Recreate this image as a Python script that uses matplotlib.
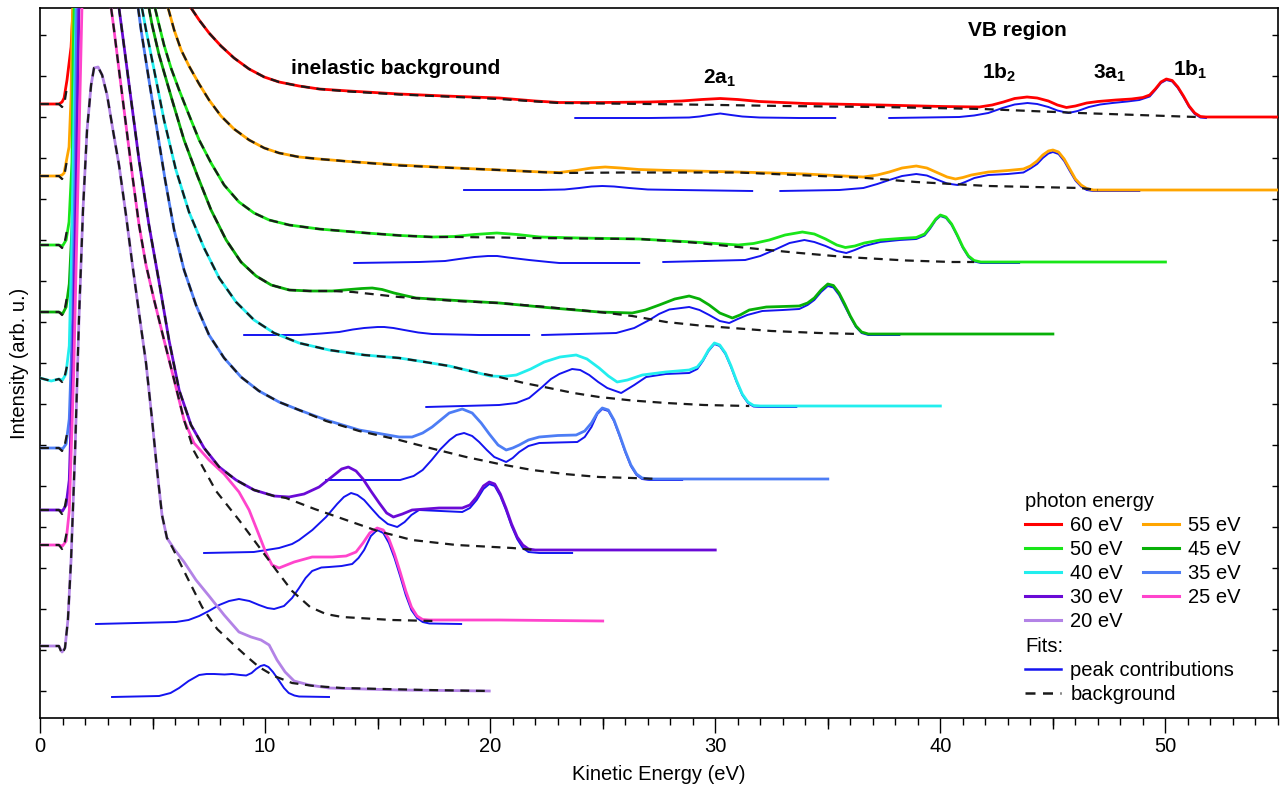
import numpy as np
import matplotlib
matplotlib.use('Agg')
import matplotlib.pyplot as plt
from matplotlib.lines import Line2D
from matplotlib.ticker import MultipleLocator, FixedLocator

plt.rcParams['font.family'] = ['Liberation Sans', 'DejaVu Sans']
plt.rcParams['mathtext.fontset'] = 'custom'
plt.rcParams['mathtext.rm'] = 'Liberation Sans:bold'
plt.rcParams['mathtext.it'] = 'Liberation Sans:bold'
plt.rcParams['mathtext.bf'] = 'Liberation Sans:bold'
plt.rcParams['mathtext.default'] = 'rm'

nan = float('nan')

# ---------------- data (kinetic energy in eV, intensity in arb. u.) ----------------
photon_energies = [60, 55, 50, 45, 40, 35, 30, 25, 20]
offsets = [60.1, 52.8, 45.6, 38.4, 31.2, 23.9, 16.8, 9.7, 2.7]
colors = ['#ff0000', '#ffa500', '#19e619', '#08b008', '#22eeee',
          '#4d7df5', '#6a0ad6', '#ff44cc', '#b383e6']

# 60 eV
ke_60 = [0, 0.84, 0.98, 1.07, 1.2, 1.38, 1.47, 2.6, 5.8, 6.71, 7.07, 7.51, 8.04, 8.62, 9.29, 9.96,
         10.62, 11.51, 12.4, 13.73, 15.96, 18.0, 20.4, 22.0, 23.07, 25.0, 27.07, 28.5, 29.4, 30.22,
         31.0, 31.96, 34.0, 37.33, 40.09, 41.73, 42.3, 42.8, 43.3, 43.85, 44.3, 44.8, 45.2, 45.6,
         46.0, 46.5, 47.0, 47.8, 48.5, 49.0, 49.3, 49.55, 49.8, 50.04, 50.3, 50.55, 50.8, 51.05,
         51.3, 51.55, 51.8, 55]
in_60 = [1.3, 1.3, 1.5, 1.9, 3.7, 7.0, 10.9, 80, 15, 10.9, 9.7, 8.4, 7.1, 5.9, 4.8, 4.0,
         3.5, 3.1, 2.8, 2.6, 2.3, 2.1, 1.9, 1.6, 1.45, 1.45, 1.5, 1.6, 1.75, 1.85,
         1.75, 1.55, 1.35, 1.2, 1.05, 1.0, 1.2, 1.5, 1.85, 2.0, 1.9, 1.6, 1.2, 0.95,
         1.1, 1.4, 1.55, 1.7, 1.8, 1.95, 2.2, 2.8, 3.5, 3.8, 3.65, 3.0, 2.1, 1.1,
         0.4, 0.05, 0, 0]
bg_ke_60 = [0, 0.84, 0.98, 1.1, 1.2, nan, 6.71, 7.07, 7.51, 8.04, 8.62, 9.29, 9.96, 10.62, 11.51,
            12.4, 13.73, 15.96, 18.0, 20.4, 23.07, 27.07, 30.22, 33.0, 37.33, 41.87, 46.18, 51.38]
bg_60 = [1.3, 1.3, 1.0, 1.6, 3.0, nan, 10.9, 9.7, 8.4, 7.1, 5.9, 4.8, 4.0, 3.5, 3.1,
         2.8, 2.55, 2.25, 2.05, 1.8, 1.4, 1.3, 1.2, 1.1, 1.0, 0.8, 0.4, 0.0]
fit_ke_60 = [23.78, 27.07, 28.84, 29.3, 29.73, 30.22, 30.7, 31.2, 31.96, 33.73, 35.33, nan,
             37.73, 40.84, 41.5, 42.13, 42.76, 43.3, 43.87, 44.3, 44.8, 45.2, 45.69, 46.1, 46.6,
             47.1, 47.64, 48.3, 48.84, 49.3, 49.55, 49.8, 50.04, 50.3, 50.55, 50.8, 51.05, 51.3,
             51.55, 51.8]
fit_60 = [-0.1, -0.1, -0.05, 0.05, 0.2, 0.35, 0.2, 0.05, -0.05, -0.1, -0.1, nan,
          -0.1, 0, 0.15, 0.4, 0.9, 1.25, 1.4, 1.3, 1.0, 0.65, 0.4, 0.6, 1.0,
          1.25, 1.4, 1.55, 1.7, 2.05, 2.7, 3.4, 3.7, 3.55, 2.9, 2.0, 1.0, 0.3,
          -0.05, -0.1]

# 55 eV
ke_55 = [0, 0.84, 0.98, 1.07, 1.29, 1.38, 1.42, 1.47, 2.6, 5.69, 5.96, 6.27, 6.62, 7.07, 7.51,
         8.04, 8.62, 9.29, 9.96, 10.62, 11.51, 12.4, 13.73, 15.96, 18.0, 20.4, 22.3, 23.07, 23.8,
         24.5, 25.11, 25.8, 26.6, 28.0, 31.02, 34.0, 36.58, 37.2, 37.73, 38.3, 38.93, 39.4, 39.9,
         40.3, 40.67, 41.0, 41.38, 42.13, 43.0, 43.69, 44.0, 44.3, 44.55, 44.8, 45.0, 45.25, 45.5,
         45.75, 46.0, 46.25, 46.5, 46.8, 55]
in_55 = [1.4, 1.4, 1.5, 1.7, 4.3, 9.3, 16, 19, 80, 18.2, 16.0, 14.0, 12.4, 10.6, 9.0,
         7.4, 6.1, 5.0, 4.2, 3.7, 3.3, 3.1, 2.85, 2.5, 2.25, 2.0, 1.8, 1.75, 1.95,
         2.2, 2.3, 2.2, 2.05, 1.95, 1.8, 1.6, 1.3, 1.5, 1.8, 2.2, 2.4, 2.2, 1.7,
         1.3, 1.1, 1.25, 1.5, 1.8, 1.95, 2.1, 2.4, 2.9, 3.5, 3.9, 4.0, 3.8, 3.1,
         2.1, 1.1, 0.5, 0.15, 0, 0]
bg_ke_55 = [0, 0.84, 0.98, 1.1, 1.2, nan, 5.69, 5.96, 6.27, 6.62, 7.07, 7.51, 8.04, 8.62, 9.29,
            9.96, 10.62, 11.51, 12.4, 13.73, 15.96, 20.4, 23.07, 26.0, 31.02, 36.71, 38.93, 42.13,
            46.22, 47.0]
bg_55 = [1.4, 1.4, 1.1, 1.7, 3.0, nan, 18.2, 16.0, 14.0, 12.4, 10.6, 9.0, 7.4, 6.1, 5.0,
         4.2, 3.7, 3.3, 3.1, 2.85, 2.45, 2.0, 1.7, 1.75, 1.75, 1.2, 0.8, 0.4,
         0.2, 0]
fit_ke_55 = [18.84, 22.18, 23.3, 23.96, 24.5, 24.98, 25.5, 26.18, 27.0, 28.4, 31.64, nan,
             32.89, 35.51, 36.58, 37.2, 37.73, 38.3, 38.93, 39.4, 39.9, 40.3, 40.76, 41.1, 41.51,
             42.13, 43.0, 43.69, 44.0, 44.3, 44.55, 44.8, 45.0, 45.25, 45.5, 45.75, 46.0, 46.25,
             46.5, 46.8, 48.84]
fit_55 = [0, 0, 0.05, 0.2, 0.35, 0.4, 0.35, 0.2, 0.05, 0, -0.1, nan,
          -0.1, 0, 0.2, 0.6, 1.0, 1.4, 1.6, 1.45, 1.0, 0.65, 0.5, 0.8, 1.2,
          1.5, 1.6, 1.75, 2.15, 2.6, 3.2, 3.65, 3.8, 3.6, 2.9, 1.9, 0.95, 0.35,
          0.0, -0.1, -0.1]

# 50 eV
ke_50 = [0, 0.84, 1.0, 1.16, 1.29, 1.42, 1.47, 1.52, 2.6, 5.11, 5.29, 5.51, 5.82, 6.18, 6.62,
         7.07, 7.6, 8.18, 8.84, 9.51, 10.18, 11.07, 12.4, 14.49, 16.0, 17.42, 18.4, 19.3, 20.3,
         21.2, 22.2, 24.0, 26.62, 29.0, 31.02, 31.7, 32.4, 33.1, 33.87, 34.4, 34.9, 35.4, 35.78,
         36.2, 36.62, 37.33, 38.2, 38.93, 39.3, 39.55, 39.8, 40.0, 40.25, 40.5, 40.75, 41.0,
         41.25, 41.5, 41.8, 50]
in_50 = [1.7, 1.7, 1.6, 2.2, 4.0, 10, 20, 26, 80, 25.4, 23.7, 21.7, 19.4, 17.2, 14.7,
         12.2, 9.9, 7.7, 6.0, 4.9, 4.2, 3.7, 3.3, 2.9, 2.65, 2.5, 2.55, 2.75, 2.9,
         2.75, 2.5, 2.4, 2.3, 2.0, 1.7, 1.85, 2.2, 2.7, 3.0, 2.8, 2.3, 1.7, 1.45,
         1.6, 1.9, 2.2, 2.35, 2.45, 2.8, 3.5, 4.3, 4.7, 4.5, 3.8, 2.7, 1.5,
         0.6, 0.15, 0, 0]
bg_ke_50 = [0, 0.84, 0.98, 1.1, 1.2, nan, 5.11, 5.29, 5.51, 5.82, 6.18, 6.62, 7.07, 7.6, 8.18,
            8.84, 9.51, 10.18, 11.07, 12.4, 14.49, 16.0, 17.42, 18.62, 21.87, 26.62, 29.0, 31.02,
            33.5, 35.78, 38.5, 40.53, 41.5]
bg_50 = [1.7, 1.7, 1.4, 2.0, 3.2, nan, 25.4, 23.7, 21.7, 19.4, 17.2, 14.7, 12.2, 9.9, 7.7,
         6.0, 4.9, 4.2, 3.7, 3.3, 2.9, 2.65, 2.5, 2.5, 2.4, 2.3, 1.95, 1.5,
         0.95, 0.5, 0.15, 0.0, 0.0]
fit_ke_50 = [13.96, 16.84, 18.0, 18.62, 19.3, 19.9, 20.31, 20.8, 21.73, 22.6, 23.07, 26.62, nan,
             27.69, 31.33, 32.0, 32.62, 33.3, 33.96, 34.4, 34.9, 35.4, 35.82, 36.2, 36.62, 37.33,
             38.2, 38.93, 39.3, 39.55, 39.8, 40.0, 40.25, 40.5, 40.75, 41.0, 41.25, 41.5, 41.8, 43.5]
fit_50 = [-0.1, 0, 0.1, 0.3, 0.5, 0.6, 0.6, 0.45, 0.2, 0, -0.1, -0.1, nan,
          0, 0.2, 0.6, 1.2, 1.9, 2.2, 2.0, 1.6, 1.1, 0.9, 1.2, 1.6, 2.0,
          2.2, 2.3, 2.65, 3.35, 4.2, 4.6, 4.4, 3.7, 2.6, 1.4, 0.5, 0.05, -0.1, -0.1]

# 45 eV
ke_45 = [0, 0.84, 1.0, 1.16, 1.3, 1.45, 1.55, 1.6, 2.6, 4.84, 4.98, 5.29, 5.87, 6.4, 6.98, 7.6,
         8.27, 8.93, 9.6, 10.27, 11.07, 12.0, 12.98, 13.5, 14.3, 14.76, 15.2, 15.73, 16.2, 16.71,
         18.5, 20.4, 22.5, 24.84, 26.31, 26.9, 27.51, 28.2, 28.84, 29.3, 29.73, 30.2, 30.76, 31.1,
         31.51, 32.27, 33.0, 33.73, 34.1, 34.4, 34.7, 35.0, 35.25, 35.5, 35.75, 36.0, 36.25, 36.5,
         36.8, 45]
in_45 = [2.2, 2.2, 2.0, 2.7, 5, 12, 25, 33, 80, 32.6, 30.9, 27.9, 23.4, 19.4, 15.9, 12.4,
         9.4, 7.2, 5.8, 4.9, 4.4, 4.3, 4.3, 4.4, 4.55, 4.6, 4.45, 4.1, 3.85, 3.6,
         3.35, 3.1, 2.65, 2.2, 2.1, 2.4, 2.9, 3.5, 3.8, 3.5, 2.9, 2.1, 1.6, 1.9,
         2.4, 2.7, 2.75, 2.8, 3.1, 3.6, 4.4, 5.0, 4.85, 4.1, 3.0, 1.8, 0.8, 0.2,
         0, 0]
bg_ke_45 = [0, 0.84, 0.98, 1.1, 1.2, nan, 4.84, 4.98, 5.29, 5.87, 6.4, 6.98, 7.6, 8.27, 8.93,
            9.6, 10.27, 11.07, 11.96, 12.98, 13.9, 15.96, 18.5, 20.4, 22.5, 24.84, 26.31, 27.82,
            29.3, 30.76, 32.5, 34.62, 36.4]
bg_45 = [2.2, 2.2, 1.9, 2.5, 3.7, nan, 32.6, 30.9, 27.9, 23.4, 19.4, 15.9, 12.4, 9.4, 7.2,
         5.8, 4.9, 4.4, 4.3, 4.3, 4.2, 3.7, 3.3, 3.1, 2.7, 2.2, 1.8, 1.2,
         0.85, 0.6, 0.3, 0.1, 0]
fit_ke_45 = [9.07, 11.51, 12.5, 13.29, 13.9, 14.4, 15.0, 15.29, 15.7, 16.18, 16.8, 17.42, 19.51,
             21.73, nan, 22.31, 25.6, 26.4, 27.07, 27.5, 27.96, 28.84, 29.3, 29.73, 30.2, 30.62,
             31.0, 31.42, 32.09, 33.0, 33.73, 34.1, 34.4, 34.7, 35.0, 35.25, 35.5, 35.75, 36.0,
             36.25, 36.5, 36.8, 38.18]
fit_45 = [-0.1, -0.1, 0.05, 0.2, 0.45, 0.6, 0.7, 0.7, 0.6, 0.4, 0.15, 0, -0.1,
          -0.1, nan, -0.1, 0.1, 0.6, 1.4, 2.0, 2.45, 2.7, 2.4, 1.9, 1.3, 1.1,
          1.5, 1.9, 2.3, 2.4, 2.5, 2.9, 3.4, 4.2, 4.8, 4.65, 3.9, 2.8, 1.7,
          0.7, 0.1, -0.1, -0.1]

# 40 eV
ke_40 = [0, 0.5, 0.84, 1.0, 1.15, 1.3, 1.4, 1.5, 1.6, 2.6, 4.53, 4.71, 5.07, 5.51, 6.04, 6.62,
         7.29, 7.96, 8.71, 9.51, 10.4, 11.51, 12.84, 14.4, 15.96, 17.1, 18.18, 19.3, 20.0, 20.6,
         21.16, 21.8, 22.4, 23.1, 23.82, 24.3, 24.84, 25.25, 25.64, 26.1, 26.76, 27.8, 28.84,
         29.2, 29.45, 29.7, 29.96, 30.2, 30.45, 30.7, 30.95, 31.2, 31.45, 31.7, 32.0, 40]
in_40 = [2.8, 2.5, 2.7, 2.6, 3.2, 6, 15, 28, 40, 80, 39.8, 37.6, 33.6, 28.6, 23.6, 19.4,
         15.8, 12.8, 10.4, 8.6, 7.3, 6.3, 5.6, 5.1, 4.8, 4.4, 4.0, 3.4, 3.0, 2.95,
         3.1, 3.7, 4.4, 4.9, 5.1, 4.7, 3.8, 3.0, 2.4, 2.6, 3.1, 3.4, 3.6,
         3.9, 4.6, 5.6, 6.3, 6.1, 5.3, 4.0, 2.5, 1.2, 0.4, 0.05, 0, 0]
bg_ke_40 = [0, 0.5, 0.84, 0.98, 1.1, 1.2, nan, 4.53, 4.71, 5.07, 5.51, 6.04, 6.62, 7.29, 7.96,
            8.71, 9.51, 10.4, 11.51, 12.84, 14.4, 15.96, 17.1, 18.18, 19.3, 20.4, 21.5, 22.62,
            23.7, 24.84, 26.3, 27.82, 29.5, 31.51]
bg_40 = [2.8, 2.5, 2.7, 2.4, 3.0, 4.0, nan, 39.8, 37.6, 33.6, 28.6, 23.6, 19.4, 15.8, 12.8,
         10.4, 8.6, 7.3, 6.3, 5.6, 5.1, 4.8, 4.4, 4.0, 3.4, 2.9, 2.3, 1.8,
         1.3, 0.9, 0.55, 0.3, 0.1, 0]
fit_ke_40 = [17.16, 20.4, 21.16, 21.73, 22.31, 22.7, 23.07, 23.64, 24.0, 24.4, 24.8, 25.2, 25.82,
             26.4, 26.93, 27.8, 28.84, 29.2, 29.45, 29.7, 29.96, 30.2, 30.45, 30.7, 30.95, 31.2,
             31.45, 31.7, 32.0, 33.6]
fit_40 = [-0.1, 0.1, 0.3, 0.8, 1.9, 2.7, 3.2, 3.7, 3.6, 3.1, 2.4, 1.8, 1.3,
          2.1, 2.9, 3.2, 3.3, 3.7, 4.5, 5.5, 6.2, 6.0, 5.2, 3.9, 2.4, 1.1,
          0.3, -0.05, -0.1, -0.1]

# 35 eV
ke_35 = [0, 0.84, 1.0, 1.16, 1.3, 1.45, 1.55, 1.64, 2.6, 4.36, 4.49, 4.84, 5.2, 5.56, 5.96, 6.4,
         6.93, 7.51, 8.18, 8.93, 9.73, 10.62, 11.51, 12.71, 14.18, 15.96, 16.53, 17.0, 17.42, 17.8,
         18.18, 18.76, 19.2, 19.6, 19.96, 20.35, 20.71, 21.0, 21.29, 21.7, 22.18, 23.0, 23.82,
         24.2, 24.5, 24.76, 24.98, 25.25, 25.5, 25.75, 26.0, 26.25, 26.5, 26.75, 27.07, 35]
in_35 = [3.1, 3.1, 3.0, 3.5, 6, 16, 30, 47.5, 80, 47.1, 44.9, 39.9, 34.9, 29.9, 24.9, 20.9,
         17.4, 14.4, 12.1, 10.2, 8.8, 7.7, 6.9, 5.9, 4.9, 4.2, 4.2, 4.6, 5.2, 5.9,
         6.6, 7.0, 6.6, 5.6, 4.5, 3.4, 2.9, 3.1, 3.4, 3.9, 4.2, 4.35, 4.4,
         4.8, 5.6, 6.6, 7.1, 6.9, 5.9, 4.4, 2.8, 1.4, 0.5, 0.1, 0, 0]
bg_ke_35 = [0, 0.84, 0.98, 1.1, 1.2, nan, 4.36, 4.49, 4.84, 5.2, 5.56, 5.96, 6.4, 6.93, 7.51,
            8.18, 8.93, 9.73, 10.62, 11.51, 12.71, 14.18, 15.96, 17.5, 18.93, 20.4, 21.87, 23.3,
            24.84, 26.31, 27.5]
bg_35 = [3.1, 3.1, 2.8, 3.4, 4.5, nan, 47.1, 44.9, 39.9, 34.9, 29.9, 24.9, 20.9, 17.4, 14.4,
         12.1, 10.2, 8.8, 7.7, 6.9, 5.8, 4.8, 3.9, 3.0, 2.2, 1.5, 0.9, 0.5,
         0.2, 0.1, 0]
fit_ke_35 = [12.71, 16.0, 16.6, 17.0, 17.4, 17.8, 18.2, 18.5, 18.84, 19.2, 19.51, 19.85, 20.18,
             20.71, 21.0, 21.29, 21.7, 22.18, 23.0, 23.87, 24.2, 24.5, 24.76, 24.98, 25.25, 25.5,
             25.75, 26.0, 26.25, 26.5, 26.75, 27.07, 28.53]
fit_35 = [-0.1, -0.1, 0.3, 0.9, 1.9, 3.0, 3.9, 4.4, 4.6, 4.3, 3.7, 2.9, 2.2,
          1.7, 2.1, 2.7, 3.3, 3.6, 3.65, 3.7, 4.2, 5.2, 6.5, 7.0, 6.8, 5.8,
          4.3, 2.7, 1.3, 0.4, 0.0, -0.1, -0.1]

# 30 eV
ke_30 = [0, 0.84, 1.0, 1.16, 1.3, 1.45, 1.6, 1.73, 2.6, 3.51, 3.64, 3.96, 4.4, 4.84, 5.29, 5.73,
         6.18, 6.71, 7.29, 7.96, 8.71, 9.51, 10.4, 11.07, 11.73, 12.4, 13.07, 13.4, 13.7, 14.04,
         14.35, 14.7, 15.07, 15.4, 15.7, 16.1, 16.53, 17.73, 18.76, 19.1, 19.4, 19.7, 19.96, 20.2,
         20.45, 20.7, 20.95, 21.2, 21.45, 21.7, 22.0, 30]
in_30 = [4.0, 4.0, 3.9, 4.5, 7, 18, 35, 54.5, 80, 54.2, 52.0, 46.5, 39.0, 32.5, 26.8, 21.0,
         16.0, 12.5, 10.2, 8.3, 7.0, 6.0, 5.4, 5.3, 5.6, 6.3, 7.5, 8.1, 8.3, 7.9,
         7.1, 5.9, 4.7, 3.7, 3.3, 3.6, 4.0, 4.2, 4.2, 4.5, 5.3, 6.4, 6.8, 6.6,
         5.6, 4.2, 2.6, 1.3, 0.5, 0.1, 0, 0]
bg_ke_30 = [0, 0.84, 0.98, 1.1, 1.2, nan, 3.51, 3.64, 3.96, 4.4, 4.84, 5.29, 5.73, 6.18, 6.71,
            7.29, 7.96, 8.71, 9.51, 10.4, 10.93, 12.2, 13.6, 15.0, 16.53, 18.5, 20.98, 22.0]
bg_30 = [4.0, 4.0, 3.6, 4.3, 5.5, nan, 54.2, 52.0, 46.5, 39.0, 32.5, 26.8, 21.0, 16.0, 12.5,
         10.2, 8.3, 7.0, 6.0, 5.4, 5.2, 4.1, 3.0, 1.9, 1.0, 0.5, 0.2, 0]
fit_ke_30 = [7.29, 9.5, 10.62, 11.2, 11.51, 12.1, 12.71, 13.2, 13.5, 13.82, 14.1, 14.4, 14.75,
             15.07, 15.45, 15.87, 16.2, 16.5, 16.84, 17.8, 18.76, 19.1, 19.4, 19.7, 19.96, 20.2,
             20.45, 20.7, 20.95, 21.2, 21.45, 21.7, 22.18, 23.64]
fit_30 = [-0.3, -0.2, 0.2, 0.6, 1.0, 2.0, 3.3, 4.6, 5.3, 5.7, 5.5, 5.0, 4.1,
          3.3, 2.6, 2.3, 2.8, 3.5, 4.0, 3.9, 3.8, 4.2, 5.0, 6.1, 6.6, 6.4,
          5.4, 4.0, 2.4, 1.1, 0.2, -0.2, -0.3, -0.3]

# 25 eV
ke_25 = [0, 0.84, 1.0, 1.16, 1.3, 1.5, 1.7, 1.87, 2.6, 3.16, 3.29, 3.51, 3.82, 4.13, 4.4, 4.71,
         5.07, 5.51, 5.96, 6.4, 6.84, 7.51, 8.18, 8.84, 9.29, 9.73, 10.04, 10.31, 10.62, 11.29,
         12.09, 13.0, 13.6, 14.04, 14.35, 14.65, 14.98, 15.25, 15.5, 15.75, 16.0, 16.25, 16.5,
         16.75, 17.0, 17.3, 20.4, 25]
in_25 = [7.6, 7.6, 7.5, 8.0, 11, 25, 45, 62, 80, 61.3, 59.1, 55.1, 49.6, 44.1, 39.6, 35.6,
         32.1, 28.1, 24.1, 20.1, 17.8, 16.1, 14.7, 12.9, 11.1, 8.6, 6.8, 5.6, 5.3, 5.9,
         6.4, 6.4, 6.5, 6.9, 7.8, 8.8, 9.3, 9.1, 8.2, 6.7, 4.9, 3.0, 1.4,
         0.5, 0.15, 0.1, 0.1, 0]
bg_ke_25 = [0, 0.84, 0.98, 1.1, 1.2, nan, 3.16, 3.29, 3.51, 3.82, 4.13, 4.4, 4.71, 5.07, 5.51,
            5.96, 6.4, 6.84, 7.82, 8.84, 9.7, 10.49, 11.2, 12.0, 12.7, 13.42, 15.64, 17.5]
bg_25 = [7.6, 7.6, 7.2, 7.9, 9.0, nan, 61.3, 59.1, 55.1, 49.6, 44.1, 39.6, 35.6, 32.1, 28.1,
         24.1, 20.1, 17.0, 13.0, 10.1, 7.5, 5.1, 3.0, 1.4, 0.7, 0.4, 0.1, 0]
fit_ke_25 = [2.49, 6.04, 6.6, 7.07, 7.5, 7.96, 8.4, 8.84, 9.3, 9.73, 10.1, 10.4, 10.84, 11.2,
             11.51, 11.8, 12.09, 12.5, 12.84, 13.4, 13.87, 14.15, 14.4, 14.7, 14.98, 15.25, 15.5,
             15.75, 16.0, 16.25, 16.5, 16.75, 17.0, 17.3, 18.71]
fit_25 = [-0.3, -0.1, 0.1, 0.5, 1.0, 1.6, 2.0, 2.2, 2.0, 1.6, 1.3, 1.2, 1.5, 2.3,
          3.3, 4.3, 5.0, 5.35, 5.4, 5.5, 5.7, 6.3, 7.1, 8.5, 9.1, 8.8, 7.8,
          6.3, 4.5, 2.6, 1.1, 0.3, -0.1, -0.25, -0.3]

# 20 eV
ke_20 = [0, 0.84, 0.98, 1.11, 1.24, 1.38, 1.56, 1.73, 1.91, 2.09, 2.27, 2.4, 2.58, 2.76, 2.98,
         3.24, 3.51, 3.82, 4.09, 4.4, 4.71, 4.98, 5.2, 5.42, 5.64, 5.96, 6.4, 6.93, 7.51, 8.18,
         8.84, 9.38, 9.82, 10.18, 10.53, 10.89, 11.29, 11.96, 12.84, 15.96, 19.96]
in_20 = [4.5, 4.5, 3.9, 4.3, 7.1, 13.1, 24.1, 37.1, 48.1, 56.1, 60.6, 62.3, 62.4, 61.6, 59.6,
         56.1, 52.6, 47.6, 42.9, 37.8, 32.8, 27.1, 22.1, 17.6, 15.3, 14.2, 12.9, 11.1, 9.5, 7.6,
         5.9, 5.4, 5.1, 4.6, 3.1, 1.9, 1.0, 0.6, 0.3, 0.1, 0]
bg_ke_20 = [0, 0.84, 0.98, 1.11, 1.24, 1.38, 1.56, 1.73, 1.91, 2.09, 2.27, 2.4, 2.58, 2.76, 2.98,
            3.24, 3.51, 3.82, 4.09, 4.4, 4.71, 4.98, 5.2, 5.42, 5.64, 5.87, 6.53, 7.2, 7.87, 8.53,
            9.16, 9.73, 10.4, 11.2, 12.18, 13.42, 17.16, 19.96]
bg_20 = [4.5, 4.5, 3.7, 4.3, 7.1, 13.1, 24.1, 37.1, 48.1, 56.1, 60.6, 62.3, 62.4, 61.6, 59.6,
         56.1, 52.6, 47.6, 42.9, 37.8, 32.8, 27.1, 22.1, 17.6, 15.3, 14.4, 11.4, 8.4, 6.2, 4.8,
         3.5, 2.4, 1.5, 0.8, 0.5, 0.3, 0.1, 0]
fit_ke_20 = [3.2, 5.29, 5.8, 6.18, 6.6, 7.07, 7.4, 7.73, 8.2, 8.53, 8.9, 9.16, 9.4, 9.6, 9.8,
             9.96, 10.15, 10.35, 10.6, 10.84, 11.05, 11.3, 11.51, 12.84]
fit_20 = [-0.6, -0.5, -0.2, 0.3, 1.0, 1.6, 1.7, 1.7, 1.65, 1.7, 1.6, 1.55, 1.8, 2.2, 2.5,
          2.6, 2.4, 1.9, 1.1, 0.3, -0.2, -0.45, -0.55, -0.6]

# orbital / region labels
orbital_labels = ['2a$_1$', '1b$_2$', '3a$_1$', '1b$_1$']
orbital_ke = [30.2, 42.6, 47.5, 51.1]
orbital_y = [64.0, 64.5, 64.5, 64.8]

spectra_ke = [ke_60, ke_55, ke_50, ke_45, ke_40, ke_35, ke_30, ke_25, ke_20]
spectra_in = [in_60, in_55, in_50, in_45, in_40, in_35, in_30, in_25, in_20]
bgs_ke = [bg_ke_60, bg_ke_55, bg_ke_50, bg_ke_45, bg_ke_40, bg_ke_35, bg_ke_30, bg_ke_25, bg_ke_20]
bgs = [bg_60, bg_55, bg_50, bg_45, bg_40, bg_35, bg_30, bg_25, bg_20]
fits_ke = [fit_ke_60, fit_ke_55, fit_ke_50, fit_ke_45, fit_ke_40, fit_ke_35, fit_ke_30, fit_ke_25, fit_ke_20]
fits = [fit_60, fit_55, fit_50, fit_45, fit_40, fit_35, fit_30, fit_25, fit_20]

# ---------------- figure ----------------
fig = plt.figure(figsize=(12.8, 7.94), dpi=100)
ax = fig.add_axes([40 / 1280, 76 / 794, 1238 / 1280, 710 / 794])

FIT_BLUE = '#1414f0'
DASH = (0, (4, 3))

for i in range(len(photon_energies)):
    off = offsets[i]
    ax.plot(fits_ke[i], np.array(fits[i]) + off, color=FIT_BLUE, lw=1.4, zorder=2,
            solid_joinstyle='round')
for i in range(len(photon_energies)):
    off = offsets[i]
    ax.plot(spectra_ke[i], np.array(spectra_in[i]) + off, color=colors[i], lw=2.0, zorder=3,
            solid_joinstyle='round')
for i in range(len(photon_energies)):
    off = offsets[i]
    ax.plot(bgs_ke[i], np.array(bgs[i]) + off, color='#1a1a1a', lw=1.6, ls=DASH, zorder=4)

ax.set_xlim(0, 55)
ax.set_ylim(0, 71)

ax.xaxis.set_major_locator(MultipleLocator(10))
ax.xaxis.set_minor_locator(MultipleLocator(1))
ax.tick_params(axis='x', which='major', direction='out', length=11, width=1.0, labelsize=14.5, pad=3)
ax.tick_params(axis='x', which='minor', direction='out', length=5, width=1.0)
sec = ax.secondary_xaxis('bottom')
sec.xaxis.set_major_locator(FixedLocator([5, 15, 25, 35, 45]))
sec.xaxis.set_minor_locator(FixedLocator([]))
sec.tick_params(axis='x', which='major', direction='out', length=8, width=1.0, labelbottom=False)
sec.spines['bottom'].set_visible(False)

ax.yaxis.set_major_locator(FixedLocator(np.arange(2.7, 71, 4.1)))
ax.tick_params(axis='y', which='major', direction='in', length=4, width=1.0,
               left=True, right=True, labelleft=False)
for s in ax.spines.values():
    s.set_linewidth(1.2)

ax.set_xlabel('Kinetic Energy (eV)', fontsize=14.5, labelpad=6)
ax.set_ylabel('Intensity (arb. u.)', fontsize=14.5, labelpad=8)

ax.text(15.8, 65.0, 'inelastic background', fontsize=15, fontweight='bold', ha='center', va='center')
ax.text(43.4, 68.7, 'VB region', fontsize=15, fontweight='bold', ha='center', va='center')
for lab, xk, yk in zip(orbital_labels, orbital_ke, orbital_y):
    ax.text(xk, yk, lab, fontsize=15, fontweight='bold', ha='center', va='center')

# legends
handles = [Line2D([], [], color=c, lw=2.2) for c in colors]
labels = [f'{e} eV' for e in photon_energies]
order = [0, 2, 4, 6, 8, 1, 3, 5, 7]
leg1 = ax.legend([handles[i] for i in order], [labels[i] for i in order], ncol=2,
                 title='photon energy', loc='upper left', bbox_to_anchor=(0.7956, 0.318),
                 frameon=False, fontsize=14.5, title_fontsize=14.5, alignment='left',
                 handlelength=1.8, handletextpad=0.45, columnspacing=1.0, labelspacing=0.25,
                 borderpad=0, borderaxespad=0)
ax.add_artist(leg1)
h2 = [Line2D([], [], color=FIT_BLUE, lw=1.8), Line2D([], [], color='#1a1a1a', lw=1.8, ls=DASH)]
leg2 = ax.legend(h2, ['peak contributions', 'background'], title='Fits:', loc='upper left',
                 bbox_to_anchor=(0.7956, 0.114), frameon=False, fontsize=14.5, title_fontsize=14.5,
                 alignment='left', handlelength=1.8, handletextpad=0.45, labelspacing=0.25,
                 borderpad=0, borderaxespad=0)

fig.savefig('out.png', dpi=100)
